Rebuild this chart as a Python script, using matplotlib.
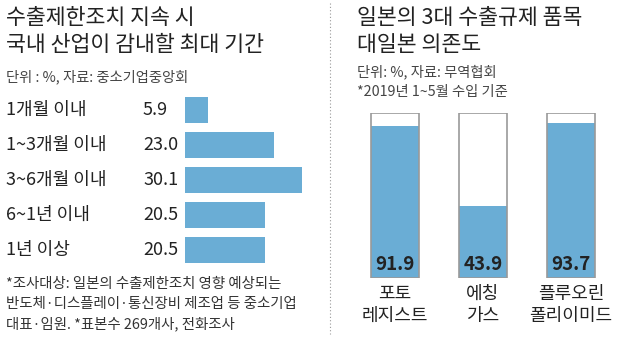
import matplotlib
matplotlib.use("Agg")
import matplotlib.pyplot as plt

plt.rcParams['font.family'] = ['Noto Sans CJK KR', 'DejaVu Sans']

# left chart data
periods = ["1개월 이내", "1~3개월 이내", "3~6개월 이내", "6~1년 이내", "1년 이상"]
period_share = [5.9, 23.0, 30.1, 20.5, 20.5]

# right chart data
items = ["포토\n레지스트", "에칭\n가스", "플루오린\n폴리이미드"]
dependence = [91.9, 43.9, 93.7]

BLUE = "#6aadd5"
W, H = 620, 338


def fx(x):
    return x / W


def fy(y):
    return 1 - y / H


fig = plt.figure(figsize=(6.2, 3.38), dpi=100)
fig.patch.set_facecolor("white")

# ---- left: horizontal bars
fig.text(fx(6), fy(18), "수출제한조치 지속 시", fontsize=15.6, va="center", color="#222")
fig.text(fx(6), fy(45), "국내 산업이 감내할 최대 기간", fontsize=15.6, va="center", color="#222")
fig.text(fx(6), fy(77), "단위 : %, 자료: 중소기업중앙회", fontsize=10.3, va="center", color="#444")

ax = fig.add_axes([fx(185), fy(267.5), 130 / W, 175 / H])
rows = list(range(len(periods)))
ax.barh(rows, period_share, height=0.72, color=BLUE)
ax.set_xlim(0, 130 / 3.88)
ax.set_ylim(4.5, -0.5)
ax.axis("off")

for i, (lab, v) in enumerate(zip(periods, period_share)):
    y = 110 + 35 * i
    fig.text(fx(6), fy(y), lab, fontsize=13, va="center", color="#222")
    fig.text(fx(143), fy(y), f"{v:.1f}", fontsize=13, va="center", color="#222")

fig.text(fx(6), fy(284), "*조사대상: 일본의 수출제한조치 영향 예상되는", fontsize=10.4, va="center", color="#333")
fig.text(fx(6), fy(304), "반도체·디스플레이·통신장비 제조업 등 중소기업", fontsize=10.4, va="center", color="#333")
fig.text(fx(6), fy(324), "대표·임원. *표본수 269개사, 전화조사", fontsize=10.4, va="center", color="#333")

# separator
fig.add_artist(plt.Line2D([fx(330), fx(330)], [fy(3), fy(334)], color="#999",
                          linestyle=(0, (1, 2)), linewidth=0.8))

# ---- right: filled boxes
fig.text(fx(357), fy(18), "일본의 3대 수출규제 품목", fontsize=15.6, va="center", color="#222")
fig.text(fx(357), fy(45), "대일본 의존도", fontsize=15.6, va="center", color="#222")
fig.text(fx(357), fy(72), "단위: %, 자료: 무역협회", fontsize=10.3, va="center", color="#444")
fig.text(fx(357), fy(92), "*2019년 1~5월 수입 기준", fontsize=10.3, va="center", color="#444")

ax2 = fig.add_axes([fx(351), fy(278), 264 / W, 165 / H])
pos = list(range(len(items)))
ax2.bar(pos, dependence, width=0.545, color=BLUE)
ax2.bar(pos, [100] * len(items), width=0.545, facecolor="none", edgecolor="#999", linewidth=1.2)
ax2.set_xlim(-0.5, 2.5)
ax2.set_ylim(0, 100)
ax2.axis("off")

for i, (lab, v) in enumerate(zip(items, dependence)):
    cx = 395 + 88 * i
    fig.text(fx(cx), fy(265), f"{v:.1f}", fontsize=13.5, fontweight="bold",
             ha="center", va="center", color="#222")
    fig.text(fx(cx), fy(305), lab, fontsize=13, ha="center", va="center",
             color="#222", linespacing=1.3)

fig.savefig("out.png", dpi=100, facecolor="white")
